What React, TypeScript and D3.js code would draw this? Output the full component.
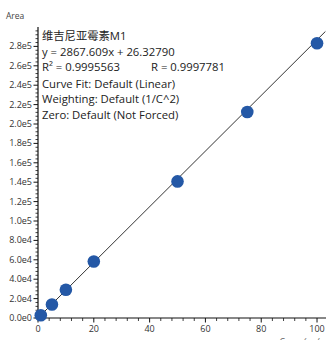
import React from "react";
import * as d3 from "d3";

// calibration standards (conc ng/mL -> peak area)
const concs = [1, 5, 10, 20, 50, 75, 100];
const areas = [2900, 13900, 29200, 58300, 140800, 212300, 283200];

const slope = 2867.609;
const intercept = 26.3279;

const infoLines = [
  "维吉尼亚霉素M1",
  "y = 2867.609x + 26.32790",
  "R\u00b2 = 0.9995563",
  "Curve Fit: Default (Linear)",
  "Weighting: Default (1/C^2)",
  "Zero: Default (Not Forced)",
];
const rText = "R = 0.9997781";

const xTicks = [0, 20, 40, 60, 80, 100];
const yTicks = d3.range(0, 280001, 20000);

const font = "'Open Sans', 'Noto Sans CJK SC', sans-serif";

function App() {
  const width = 326;
  const height = 340;

  const x = d3.scaleLinear().domain([0, 103]).range([38, 325.4]);
  const y = d3.scaleLinear().domain([0, 300000]).range([318, 27]);

  const xMinor = d3.range(0, 101, 4).filter(v => v % 20 !== 0);
  const yMinor = d3.range(0, 300001, 4000).filter(v => v % 20000 !== 0);

  const fmt = (v: number) => {
    if (v === 0) return "0.0e0";
    const e = Math.floor(Math.log10(v));
    return (v / Math.pow(10, e)).toFixed(1) + "e" + e;
  };

  const line = d3
    .line<number>()
    .x(d => x(d))
    .y(d => y(slope * d + intercept));

  const x0 = x(0);
  const y0 = y(0);

  return (
    <svg
      width={width}
      height={height}
      style={{ position: "absolute", left: 0, top: 0, background: "#fff" }}
      fontFamily={font}
    >
      {/* y axis */}
      <text x={6} y={19} fontSize={8.5} fill="#444">
        Area
      </text>
      <line x1={x0} x2={x0} y1={y(300000)} y2={y0 + 0.5} stroke="#111" strokeWidth={1.2} />
      {yMinor.map(v => (
        <line key={"ym" + v} x1={x0 - 2.5} x2={x0} y1={y(v)} y2={y(v)} stroke="#111" strokeWidth={0.8} />
      ))}
      {yTicks.map(v => (
        <g key={"y" + v}>
          <line x1={x0 - 4.5} x2={x0} y1={y(v)} y2={y(v)} stroke="#111" strokeWidth={1} />
          <text x={x0 - 6} y={y(v)} dy="0.34em" textAnchor="end" fontSize={9} fill="#333">
            {fmt(v)}
          </text>
        </g>
      ))}

      {/* x axis */}
      <line x1={x0 - 0.5} x2={width} y1={y0} y2={y0} stroke="#111" strokeWidth={1.2} />
      {xMinor.map(v => (
        <line key={"xm" + v} x1={x(v)} x2={x(v)} y1={y0} y2={y0 + 3} stroke="#111" strokeWidth={0.8} />
      ))}
      {xTicks.map(v => (
        <g key={"x" + v}>
          <line x1={x(v)} x2={x(v)} y1={y0} y2={y0 + 4.5} stroke="#111" strokeWidth={1} />
          <text x={x(v)} y={y0 + 14} textAnchor="middle" fontSize={9} fill="#333">
            {v}
          </text>
        </g>
      ))}
      <text x={279} y={345} fontSize={9} fill="#666" fontStyle="italic">
        Conc. (ng/mL)
      </text>

      {/* regression line */}
      <path d={line([0, 103]) || ""} fill="none" stroke="#333" strokeWidth={1} />

      {/* points */}
      {concs.map((c, i) => (
        <circle key={c} cx={x(c)} cy={y(areas[i])} r={6.3} fill="#2458a6" />
      ))}

      {/* annotation */}
      {infoLines.map((t, i) => (
        <text
          key={i}
          x={42}
          y={40 + i * 15.6 + (i >= 3 ? 1 : 0)}
          fontSize={11.3}
          fill="#222"
        >
          {t}
        </text>
      ))}
      <text x={151} y={40 + 2 * 15.6} fontSize={11.3} fill="#222">
        {rText}
      </text>
    </svg>
  );
}

export default App;
